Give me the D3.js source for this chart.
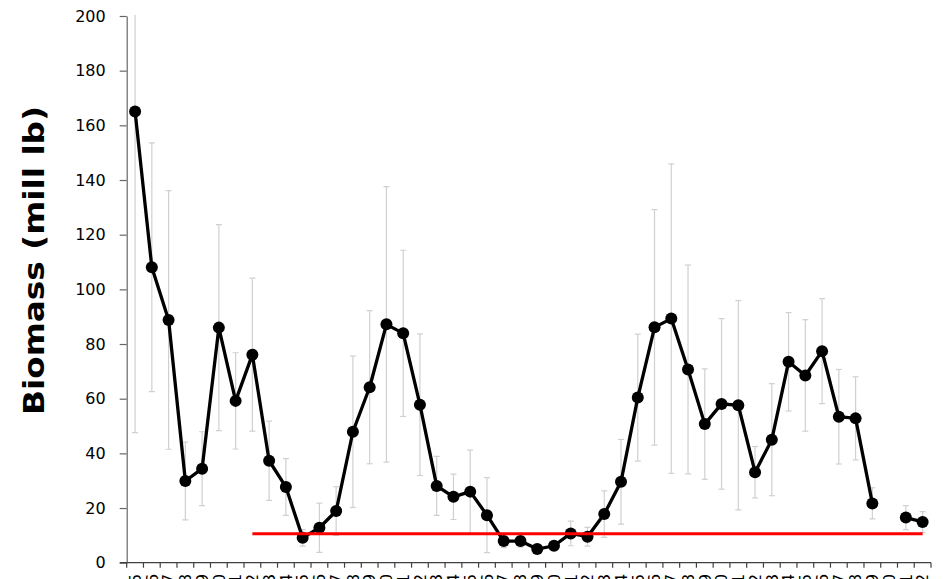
<!DOCTYPE html>
<html>
<head>
<meta charset="utf-8">
<script src="https://cdn.jsdelivr.net/npm/d3@7"></script>
<style>
  html, body { margin: 0; padding: 0; background: #fff; overflow: hidden; }
  svg { display: block; }
</style>
</head>
<body>
<svg id="chart" width="943" height="579"></svg>
<script>
// categories: survey years
var years = [1975, 1976, 1977, 1978, 1979, 1980, 1981, 1982, 1983, 1984,
             1985, 1986, 1987, 1988, 1989, 1990, 1991, 1992, 1993, 1994,
             1995, 1996, 1997, 1998, 1999, 2000, 2001, 2002, 2003, 2004,
             2005, 2006, 2007, 2008, 2009, 2010, 2011, 2012, 2013, 2014,
             2015, 2016, 2017, 2018, 2019, 2020, 2021, 2022];

// biomass estimate (mill lb), 2020 missing
var biomass = [165.1, 108.1, 88.8, 29.9, 34.4, 86.0, 59.2, 76.1, 37.3, 27.7,
               9.1, 12.8, 18.9, 47.9, 64.2, 87.2, 83.9, 57.8, 28.1, 24.1,
               26.0, 17.4, 7.9, 7.9, 5.0, 6.2, 10.7, 9.5, 17.8, 29.6,
               60.4, 86.1, 89.3, 70.7, 50.7, 58.1, 57.6, 33.1, 45.0, 73.5,
               68.5, 77.4, 53.4, 52.8, 21.7, null, 16.5, 14.9];

// +/- error
var errors = [117.5, 45.5, 47.3, 14.2, 13.5, 37.7, 17.6, 28.0, 14.5, 10.4,
              3.0, 9.0, 8.9, 27.7, 28.0, 50.4, 30.4, 25.9, 10.8, 8.3,
              15.2, 13.7, 2.4, 2.2, 1.5, 1.5, 4.5, 3.4, 8.5, 15.5,
              23.2, 43.1, 56.6, 38.2, 20.2, 31.2, 38.3, 9.4, 20.5, 18.0,
              20.4, 19.2, 17.3, 15.2, 5.7, null, 4.4, 3.8];

// reference line (red)
var refYears = [1982, 2022];
var refValue = 10.6;

var yTicks = [0, 20, 40, 60, 80, 100, 120, 140, 160, 180, 200];

var svg = d3.select('#chart');

var pLeft = 126.7, pRight = 931, pTop = 16, pBottom = 562.7;

var x = d3.scaleBand().domain(years).range([pLeft, pRight]).padding(0);
var y = d3.scaleLinear().domain([0, 200]).range([pBottom, pTop]);

function cx(yr){ return x(yr) + x.bandwidth() / 2; }

var pts = years.map(function(yr, i){
	return {year: yr, v: biomass[i], e: errors[i]};
});

svg.append('clipPath').attr('id', 'plot')
	.append('rect').attr('x', pLeft).attr('y', pTop - 1)
	.attr('width', pRight - pLeft + 10).attr('height', pBottom - pTop + 1);

// error bars
var eb = svg.append('g').attr('clip-path', 'url(#plot)')
	.selectAll('g').data(pts.filter(function(d){ return d.v != null; }))
	.enter().append('g')
	.attr('stroke', '#d0d0d0').attr('stroke-width', 1.2);

eb.append('line')
	.attr('x1', function(d){ return cx(d.year); })
	.attr('x2', function(d){ return cx(d.year); })
	.attr('y1', function(d){ return y(d.v + d.e); })
	.attr('y2', function(d){ return y(Math.max(0, d.v - d.e)); });
eb.append('line')
	.attr('x1', function(d){ return cx(d.year) - 3; })
	.attr('x2', function(d){ return cx(d.year) + 3; })
	.attr('y1', function(d){ return y(d.v + d.e); })
	.attr('y2', function(d){ return y(d.v + d.e); });
eb.append('line')
	.attr('x1', function(d){ return cx(d.year) - 3; })
	.attr('x2', function(d){ return cx(d.year) + 3; })
	.attr('y1', function(d){ return y(Math.max(0, d.v - d.e)); })
	.attr('y2', function(d){ return y(Math.max(0, d.v - d.e)); });

// y axis
var yAxis = svg.append('g')
	.attr('transform', 'translate(' + pLeft + ',0)')
	.call(d3.axisLeft(y).tickValues(yTicks).tickSize(7).tickSizeOuter(0).tickPadding(14));
yAxis.select('.domain').attr('stroke', '#666').attr('stroke-width', 1.2);
yAxis.selectAll('.tick line').attr('stroke', '#666').attr('stroke-width', 1.2);
yAxis.selectAll('.tick text')
	.attr('font-family', '"DejaVu Sans", sans-serif').attr('font-size', 16)
	.attr('fill', '#000');

// x axis: line, ticks between categories, year labels
var xAxis = svg.append('g');
xAxis.append('line')
	.attr('x1', pLeft - 7).attr('x2', pRight)
	.attr('y1', pBottom).attr('y2', pBottom)
	.attr('stroke', '#404040').attr('stroke-width', 1.2);
xAxis.selectAll('line.tk').data(years.concat(['end'])).enter().append('line')
	.attr('class', 'tk')
	.attr('x1', function(d){ return d === 'end' ? pRight : x(d); })
	.attr('x2', function(d){ return d === 'end' ? pRight : x(d); })
	.attr('y1', pBottom).attr('y2', pBottom + 5)
	.attr('stroke', '#404040').attr('stroke-width', 1.2);
xAxis.selectAll('text').data(years).enter().append('text')
	.attr('transform', function(d){ return 'translate(' + cx(d) + ',' + (pBottom + 11) + ') rotate(-90)'; })
	.attr('text-anchor', 'end').attr('dy', '0.36em')
	.attr('font-family', '"DejaVu Sans", sans-serif').attr('font-size', 16)
	.text(function(d){ return d; });

// biomass series
var line = d3.line()
	.defined(function(d){ return d.v != null; })
	.x(function(d){ return cx(d.year); })
	.y(function(d){ return y(d.v); });

svg.append('path').datum(pts)
	.attr('d', line)
	.attr('fill', 'none').attr('stroke', '#000').attr('stroke-width', 3.3)
	.attr('stroke-linejoin', 'round');

svg.append('g').selectAll('circle')
	.data(pts.filter(function(d){ return d.v != null; }))
	.enter().append('circle')
	.attr('cx', function(d){ return cx(d.year); })
	.attr('cy', function(d){ return y(d.v); })
	.attr('r', 6).attr('fill', '#000');

// red reference line
svg.append('line')
	.attr('x1', cx(refYears[0])).attr('x2', cx(refYears[1]))
	.attr('y1', y(refValue)).attr('y2', y(refValue))
	.attr('stroke', '#ff0000').attr('stroke-width', 3);

// y title
svg.append('text')
	.attr('transform', 'translate(43.5,260.5) rotate(-90)')
	.attr('text-anchor', 'middle')
	.attr('font-family', '"DejaVu Sans", sans-serif').attr('font-weight', 'bold')
	.attr('font-size', 28)
	.attr('textLength', 309).attr('lengthAdjust', 'spacingAndGlyphs')
	.text('Biomass (mill lb)');
</script>
</body>
</html>
